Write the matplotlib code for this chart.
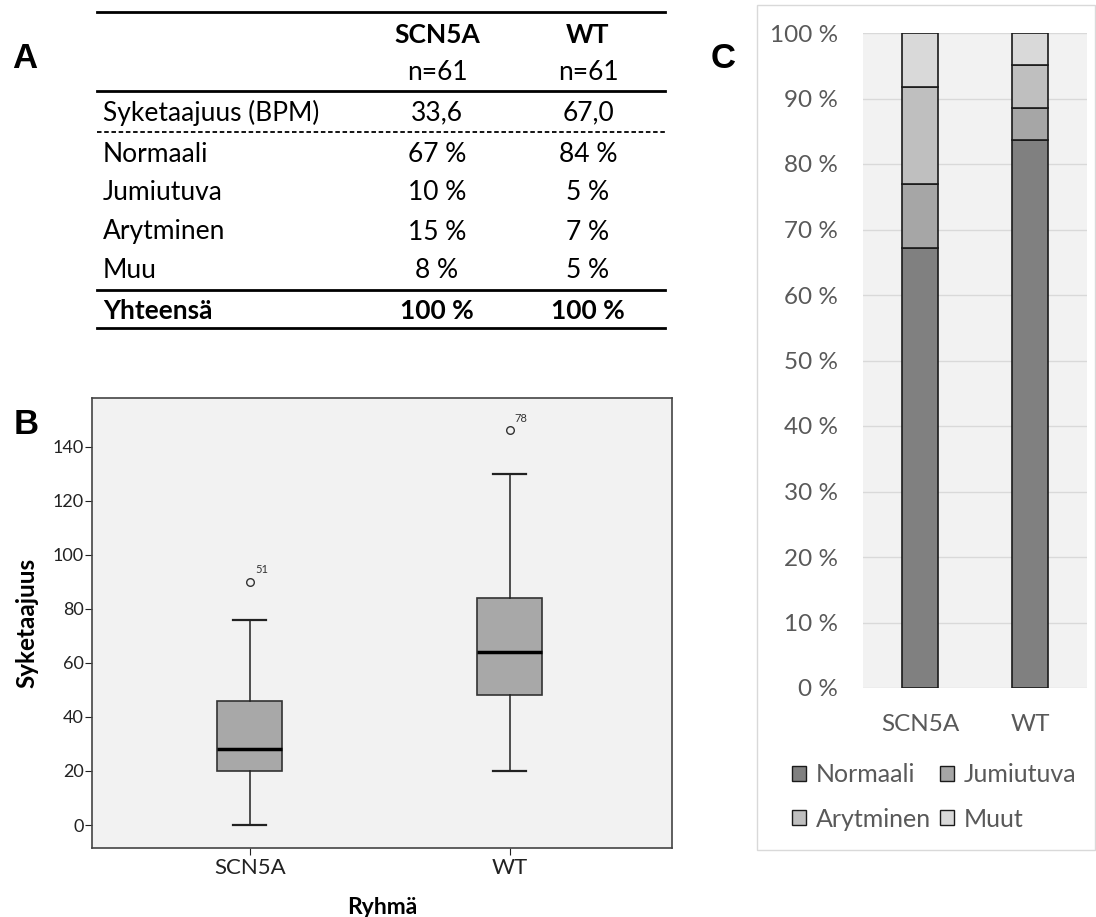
import numpy as np
import matplotlib
matplotlib.use('Agg')
import matplotlib.pyplot as plt
from matplotlib.patches import Patch

plt.rcParams['font.family'] = ['Lato', 'DejaVu Sans']

# --- data -------------------------------------------------------------
groups = ['SCN5A', 'WT']
n_sizes = ['n=61', 'n=61']
hr_mean = ['33,6', '67,0']
row_names = ['Normaali', 'Jumiutuva', 'Arytminen', 'Muu']
row_scn5a = ['67 %', '10 %', '15 %', '8 %']
row_wt = ['84 %', '5 %', '7 %', '5 %']
total_row = ['Yhteensä', '100 %', '100 %']

# boxplot stats
box_whislo = [0, 20]
box_q1 = [20, 48]
box_med = [28, 64]
box_q3 = [46, 84]
box_whishi = [76, 130]
box_flier = [90, 146]
flier_ids = ['51', '78']

# stacked bar shares (%)
cats = ['Normaali', 'Jumiutuva', 'Arytminen', 'Muut']
share_scn5a = [67.2, 9.8, 14.8, 8.2]
share_wt = [83.6, 4.9, 6.6, 4.9]
bar_colors = ['#808080', '#a6a6a6', '#bfbfbf', '#d9d9d9']

W, H = 1096, 917
fig = plt.figure(figsize=(W / 100, H / 100), dpi=100)

# overlay axes in pixel coordinates for table + panel letters
ov = fig.add_axes([0, 0, 1, 1])
ov.set_xlim(0, W)
ov.set_ylim(H, 0)
ov.axis('off')

for lab, x, y in [('A', 25, 59), ('B', 26, 425), ('C', 723, 59)]:
    ov.text(x, y, lab, fontsize=25, fontweight='bold', family=['Liberation Sans', 'DejaVu Sans'],
            ha='center', va='center')

# --- panel A: table ---------------------------------------------------
x0, x1 = 97, 665
xc = [437, 588]
tfs = 19
ov.plot([x0, x1], [12, 12], color='k', lw=2)
for i, g in enumerate(groups):
    ov.text(xc[i], 35, g, fontsize=tfs, fontweight='bold', ha='center', va='center')
    ov.text(xc[i], 73, n_sizes[i], fontsize=tfs, ha='center', va='center')
ov.plot([x0, x1], [91, 91], color='k', lw=2)
ov.text(103, 113, 'Syketaajuus (BPM)', fontsize=tfs, ha='left', va='center')
for i in range(2):
    ov.text(xc[i], 113, hr_mean[i], fontsize=tfs, ha='center', va='center')
ov.plot([x0, x1], [132, 132], color='k', lw=1.3, ls=(0, (2.5, 1.5)))
for j, name in enumerate(row_names):
    y = 154 + j * 39
    ov.text(103, y, name, fontsize=tfs, ha='left', va='center')
    ov.text(xc[0], y, row_scn5a[j], fontsize=tfs, ha='center', va='center')
    ov.text(xc[1], y, row_wt[j], fontsize=tfs, ha='center', va='center')
ov.plot([x0, x1], [290, 290], color='k', lw=2)
ov.text(103, 311, total_row[0], fontsize=tfs, fontweight='bold', ha='left', va='center')
for i in range(2):
    ov.text(xc[i], 311, total_row[i + 1], fontsize=tfs, fontweight='bold', ha='center', va='center')
ov.plot([x0, x1], [328, 328], color='k', lw=2)

# --- panel B: boxplot -------------------------------------------------
axb = fig.add_axes([92 / W, 1 - 848 / H, 580 / W, 450 / H])
axb.set_facecolor('#f2f2f2')
stats = []
for i in range(2):
    stats.append(dict(whislo=box_whislo[i], q1=box_q1[i], med=box_med[i],
                      q3=box_q3[i], whishi=box_whishi[i], fliers=[box_flier[i]]))
pos = [1, 2]
axb.bxp(stats, positions=pos, widths=0.25, patch_artist=True,
        boxprops=dict(facecolor='#a8a8a8', edgecolor='#333333', lw=1.2),
        medianprops=dict(color='k', lw=2.5),
        whiskerprops=dict(color='#222222', lw=1.1),
        capprops=dict(color='#222222', lw=1.6), capwidths=0.125,
        flierprops=dict(marker='o', markerfacecolor='none', markeredgecolor='#333333',
                        markersize=5.5, markeredgewidth=1))
for i in range(2):
    axb.text(pos[i] + 0.02, box_flier[i] + 2.5, flier_ids[i], fontsize=8, color='#333333',
             ha='left', va='bottom')
axb.set_xlim(0.393, 2.625)
axb.set_ylim(-8.5, 158)
axb.set_yticks(np.arange(0, 141, 20))
axb.set_xticks(pos)
axb.set_xticklabels(groups)
axb.tick_params(axis='y', labelsize=13, colors='#222222', length=5, pad=1)
axb.tick_params(axis='x', labelsize=16, colors='#222222', length=5, pad=2)
for s in axb.spines.values():
    s.set_color('#444444')
    s.set_linewidth(1.2)
axb.set_ylabel('Syketaajuus', fontsize=17.5, fontweight='bold', va='center')
axb.yaxis.set_label_coords((27 - 92) / 580, 0.5)
axb.set_xlabel('Ryhmä', fontsize=16.5, fontweight='bold', va='center')
axb.xaxis.set_label_coords(0.5, (848 - 907) / 450)

# --- panel C: stacked bars --------------------------------------------
frame = plt.Rectangle((757 / W, 1 - 850 / H), 338 / W, 845 / H, transform=fig.transFigure,
                      fill=False, edgecolor='#d9d9d9', lw=1)
fig.add_artist(frame)
axc = fig.add_axes([863 / W, 1 - 688 / H, 224 / W, 655 / H])
axc.set_facecolor('#f2f2f2')
xb = np.arange(2)
bottom = np.zeros(2)
for k, c in enumerate(cats):
    vals = np.array([share_scn5a[k], share_wt[k]])
    axc.bar(xb, vals, bottom=bottom, width=0.33, color=bar_colors[k], edgecolor='#1a1a1a',
            lw=1.2, label=c, zorder=3)
    bottom += vals
axc.set_xlim(-0.52, 1.52)
axc.set_ylim(0, 100)
axc.set_yticks(np.arange(0, 101, 10))
axc.set_yticklabels([f'{v} %' for v in range(0, 101, 10)])
axc.yaxis.grid(True, color='#d9d9d9', lw=1, zorder=0)
axc.set_xticks(xb)
axc.set_xticklabels(groups)
axc.tick_params(axis='y', length=0, labelsize=17.5, colors='#595959', pad=18)
axc.tick_params(axis='x', length=0, labelsize=17.5, colors='#595959', pad=19)
for s in axc.spines.values():
    s.set_visible(False)
# legend order: row 1 Normaali, Jumiutuva; row 2 Arytminen, Muut
order = [0, 2, 1, 3]
handles = [Patch(facecolor=bar_colors[k], edgecolor='#1a1a1a', label=cats[k]) for k in order]
fig.legend(handles=handles, ncol=2, loc='center', bbox_to_anchor=(934 / W, 1 - 797 / H),
           frameon=False, fontsize=18, labelcolor='#595959', handlelength=0.56, handleheight=0.56,
           handletextpad=0.4, columnspacing=0.35, labelspacing=0.85, borderpad=0)

fig.savefig('out.png', dpi=100)
